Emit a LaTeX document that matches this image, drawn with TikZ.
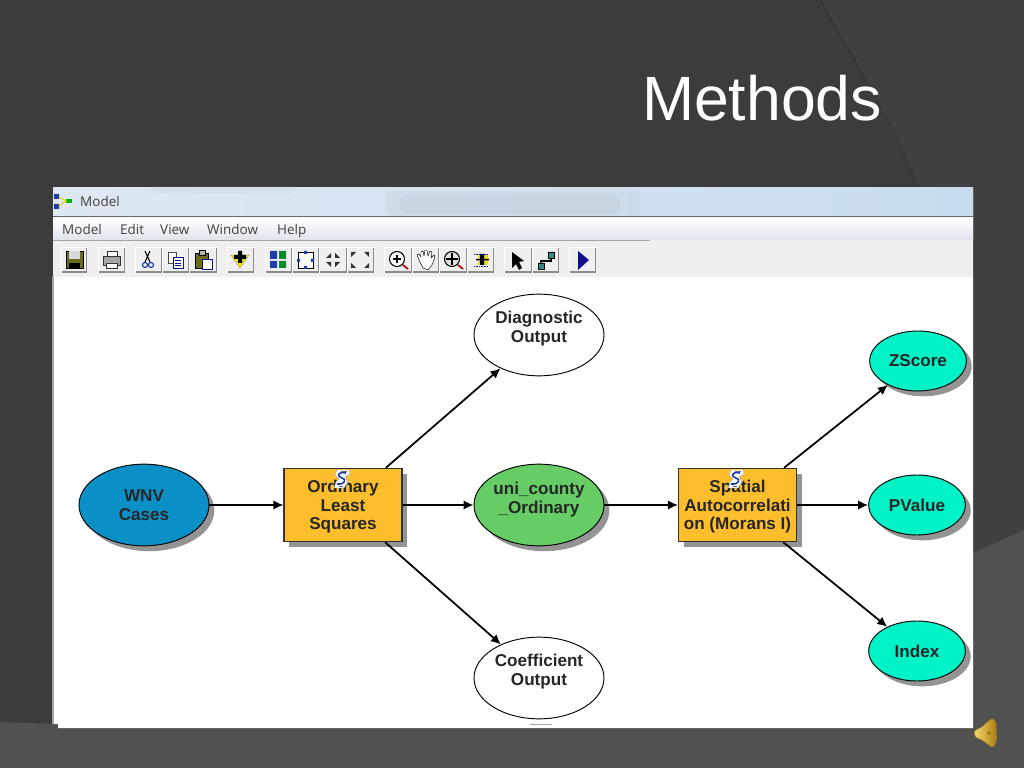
\documentclass[tikz,border=0pt]{standalone}
\usepackage{fontspec}
\setmainfont{Liberation Sans}
\newfontfamily\uifont{Open Sans}
\usetikzlibrary{shapes.geometric, arrows.meta, positioning, calc, shadows}
\definecolor{SlateDark}{HTML}{3C3C3C}
\definecolor{SlateMid}{HTML}{404040}
\definecolor{SlateLight}{HTML}{515151}
\definecolor{CaseBlue}{HTML}{0A8FC6}
\definecolor{ToolYellow}{HTML}{FDBE2E}
\definecolor{DataGreen}{HTML}{66CC66}
\definecolor{OutTeal}{HTML}{00F3C6}
\definecolor{BarGrey}{HTML}{EFEFEF}
\definecolor{MenuGrey}{HTML}{E0E3EC}
\definecolor{SkyPale}{HTML}{DFE8F2}
\definecolor{SkyMid}{HTML}{BAD2EC}
\definecolor{SkyEnd}{HTML}{C8DCEF}
\definecolor{IconOlive}{HTML}{6C6C1E}
\definecolor{IconBlue}{HTML}{1F3FA8}
\definecolor{IconGreen}{HTML}{0B8A2A}
\definecolor{IconNavy}{HTML}{10108C}
\definecolor{IconRed}{HTML}{B01818}
\definecolor{IconTeal}{HTML}{2E8C8C}
\definecolor{GoldDark}{HTML}{A87A10}
\definecolor{GoldLight}{HTML}{F5D970}

\begin{document}
\begin{tikzpicture}[
    x=0.03cm, y=-0.03cm,
    every node/.style={font=\fontsize{14.6}{16}\selectfont\bfseries, text=black!85},
    dataoval/.style={draw=black, ellipse, line width=0.8pt, minimum width=3.9cm, minimum height=2.45cm,
                     inner sep=0pt, align=center},
    outoval/.style={dataoval, fill=white, text depth=0.5cm},
    shadeoval/.style={dataoval, drop shadow={shadow xshift=0.16cm, shadow yshift=-0.16cm, fill=black!42, opacity=1}},
    smalloval/.style={shadeoval, fill=OutTeal, minimum width=2.9cm, minimum height=1.8cm},
    toolbox/.style={draw=black!80, fill=ToolYellow, line width=0.9pt, minimum width=3.54cm, minimum height=2.2cm,
                    inner sep=0pt, align=center, text depth=0pt,
                    drop shadow={shadow xshift=0.16cm, shadow yshift=-0.16cm, fill=black!42, opacity=1}},
    arrow/.style={-{Latex[length=3mm, width=2.8mm]}, line width=1.5pt, black},
    menuitem/.style={font=\uifont\fontsize{11.5}{13}\selectfont, text=black!75, inner sep=0pt, anchor=base west},
    scripticon/.pic={
      \fill[white, draw=IconBlue!50, line width=0.3pt] (-5,-9) -- (7,-9) -- (8,-5) -- (3,-2) -- (6,3) -- (2,9) -- (-8,9) -- (-6,3) -- (-3,0) -- (-7,-4) -- cycle;
      \draw[IconBlue, line width=1.4pt] (4,-6) .. controls (-5,-8) and (-5,-2) .. (0,-1) .. controls (5,0) and (3,6) .. (-5,5);
      \draw[black!60, line width=0.4pt] (-3,7.5) -- (1,7.5) (-1,-7.5) -- (5,-7.5);
    }
  ]
    \useasboundingbox (0,0) rectangle (1024,768);

    % Slide background
    \fill[SlateDark] (0,0) rectangle (1024,768);
    \fill[SlateMid] (820,0) .. controls (860,70) and (895,125) .. (918,188) -- (940,300) -- (1024,300) -- (1024,0) -- cycle;
    \fill[SlateMid] (960,188) rectangle (1024,560);
    \draw[black, opacity=0.1, line width=1.2pt] (820,0) .. controls (860,70) and (895,125) .. (918,188);
    \fill[SlateLight] (973,553) -- (1024,530) -- (1024,768) -- (973,768) -- cycle;
    \fill[SlateLight] (0,722) -- (58,724) -- (58,728) -- (973,728) -- (973,768) -- (0,768) -- cycle;

    % Title
    \node[font=\fontsize{53.4}{60}\selectfont, text=white, inner sep=0pt] (title) at (762,98) {Methods};

    % Window
    \fill[white] (53,188) -- (973,188) -- (973,728) -- (58,728) -- (58,724) -- (53,724) -- cycle;
    \fill[black!35] (52,277) rectangle (54,724);
    \shade[left color=SkyPale, middle color=SkyMid, right color=SkyEnd] (53,188) rectangle (973,217);
    \fill[black!45, opacity=0.07, rounded corners=6pt] (385,191) rectangle (640,216);
    \fill[black!45, opacity=0.07, rounded corners=6pt] (400,195) rectangle (620,214);
    \fill[black!45, opacity=0.08, rounded corners=4pt] (150,186) rectangle (295,193);
    \fill[black!60] (53,216.5) rectangle (973,217.5);
    \shade[top color=white, bottom color=MenuGrey] (53,218) rectangle (973,240);
    \fill[BarGrey] (53,240) rectangle (973,277);
    \fill[black!35] (53,240) rectangle (650,241);

    % Title bar and menu
    \node[menuitem] (wintitle) at (80,206.5) {Model};
    \fill[IconBlue] (54,194) rectangle (59,199) (54,204) rectangle (59,209);
    \fill[green!70!black] (66,199) rectangle (72,203);
    \draw[yellow!90!black, line width=1pt] (59,197) -- (66,201) -- (59,206);
    \node[menuitem] (mmodel) at (62,234.5) {Model};
    \node[menuitem] (medit) at (120,234.5) {Edit};
    \node[menuitem] (mview) at (160,234.5) {View};
    \node[menuitem] (mwindow) at (207,234.5) {Window};
    \node[menuitem] (mhelp) at (277,234.5) {Help};

    % Toolbar buttons
    \foreach \xa/\xb in {61/87, 98/125, 135/162, 162/189, 189/217, 227/254, 265/292, 292/319, 319/347, 347/374,
                         384/412, 412/439, 439/467, 467/494, 504/532, 532/559, 569/596} {
      \fill[white] (\xa,247) rectangle (\xb,273);
      \fill[black!45] (\xa+1,271.5) rectangle (\xb,273.5);
      \fill[black!45] (\xb-1,248) rectangle (\xb,273.5);
      \fill[BarGrey] (\xa+1,248) rectangle (\xb-1,271.5);
    }

    % Toolbar icons
    \fill[IconOlive, draw=black] (66,251) rectangle (83,268);
    \fill[black!15] (69,251) rectangle (80,259);
    \fill[black] (69,263) rectangle (80,268);
    \fill[black!35, draw=black!80] (103,256) rectangle (120,265);
    \fill[white, draw=black!80] (107,251) rectangle (117,256) (106,263) rectangle (117,268);
    \draw[black, line width=0.9pt] (145,251) -- (150,262) (150,251) -- (145,262);
    \draw[IconBlue, line width=1pt] (145,265) circle (2.5) (151,265) circle (2.5);
    \draw[black!70, fill=white] (168,252) rectangle (176,263);
    \draw[IconNavy, fill=white] (173,257) rectangle (183,268);
    \draw[IconNavy] (175,260) -- (181,260) (175,263) -- (181,263) (175,265.5) -- (181,265.5);
    \fill[IconOlive, draw=black] (195,253) rectangle (208,268);
    \fill[black!30, draw=black] (199,250) rectangle (205,255);
    \draw[IconNavy, fill=white] (202,259) rectangle (212,269);
    \fill[yellow!85!orange, draw=black!40] (231,255) -- (249,255) -- (240,268) -- cycle;
    \fill[black] (238,251) rectangle (242,263) (234,255) rectangle (246,259);
    \fill[IconBlue] (270,251) rectangle (277,259) (270,261) rectangle (277,268);
    \fill[IconGreen] (279,251) rectangle (286,259) (279,261) rectangle (286,268);
    \draw[black, fill=white] (298,252) rectangle (313,268);
    \fill[IconBlue] (304,251) rectangle (307,254) (304,266) rectangle (307,269) (297,259) rectangle (300,262) (311,259) rectangle (314,262);
    \foreach \sx/\sy in {-1/-1, 1/-1, -1/1, 1/1} {
      \fill[black!80] ($(333,260)+(\sx*2,\sy*2)$) -- ($(333,260)+(\sx*7,\sy*2)$) -- ($(333,260)+(\sx*2,\sy*7)$) -- cycle;
      \fill[black!80] ($(360,260)+(\sx*9,\sy*8)$) -- ($(360,260)+(\sx*4,\sy*8)$) -- ($(360,260)+(\sx*9,\sy*3)$) -- cycle;
    }
    \draw[black, fill=white, line width=0.9pt] (397,259) circle (7.5);
    \draw[black, line width=1pt] (393,259) -- (401,259) (397,255) -- (397,263);
    \draw[IconRed, line width=1.6pt] (403,265) -- (408,269);
    \draw[black, fill=white, line join=round] (420,262) -- (417,255) -- (419,254) -- (421,257) -- (421,252) -- (423,251) -- (424,256) -- (425,250) -- (427,250) -- (428,256) -- (430,251) -- (432,252) -- (431,258) -- (434,255) -- (435,257) -- (432,265) -- (428,270) -- (423,268) -- cycle;
    \draw[black, fill=black!12, line width=0.9pt] (452,259) circle (7.5);
    \draw[black, line width=1.6pt] (446,259) -- (458,259) (452,253) -- (452,265);
    \draw[IconRed, line width=1.6pt] (458,265) -- (463,269);
    \fill[yellow!90!black] (478,254) rectangle (488,265);
    \fill[black] (480,254) rectangle (484,265) (476,259) rectangle (489,260.5);
    \draw[IconNavy, densely dotted] (474,254) -- (488,254) (474,266) -- (488,266);
    \fill[black] (512,252) -- (512,268) -- (516,264) -- (519,270) -- (522,268) -- (519,262) -- (524,261) -- cycle;
    \draw[black, line width=0.9pt] (541,265) -- (541,261) -- (551,261) -- (551,256);
    \fill[IconTeal, draw=black] (538,263) rectangle (544,269) (548,252) rectangle (554,258);
    \fill[IconNavy] (578,251) -- (589,260) -- (578,270) -- cycle;

    % Model nodes
    \node[shadeoval, fill=CaseBlue] (wnv) at (144,505) {WNV\\Cases};
    \node[toolbox] (ols) at (343,505) {Ordinary\\Least\\Squares};
    \node[shadeoval, fill=DataGreen, text depth=0.45cm] (county) at (539,505) {uni\_county\\\_Ordinary};
    \node[toolbox] (moran) at (737.5,505) {Spatial\\Autocorrelati\\on (Morans I)};
    \node[outoval] (diag) at (539,335) {Diagnostic\\Output};
    \node[outoval] (coef) at (539,678) {Coefficient\\Output};
    \node[smalloval] (zscore) at (918,361) {ZScore};
    \node[smalloval] (pvalue) at (917,505) {PValue};
    \node[smalloval] (index) at (917,651) {Index};
    \pic at (342,479) {scripticon};
    \pic at (736,479) {scripticon};
    \fill[black!35] (530,723.5) rectangle (552,724.5);

    % Arrows
    \draw[arrow] (wnv) -- (ols);
    \draw[arrow] (ols) -- (county);
    \draw[arrow] (ols) -- (diag);
    \draw[arrow] (ols) -- (coef);
    \draw[arrow] (county) -- (moran);
    \draw[arrow] (moran) -- (zscore);
    \draw[arrow] (moran) -- (pvalue);
    \draw[arrow] (moran) -- (index);

    % Speaker
    \shade[left color=GoldLight, right color=GoldDark, draw=GoldDark, line width=0.3pt, rounded corners=2pt]
      (974,731) -- (982,727) -- (992,718) -- (996,722) -- (997,740) -- (993,748) -- (982,740) -- (975,737) -- cycle;
    \fill[GoldDark] (989,733) circle (2);
  \end{tikzpicture}
\end{document}
